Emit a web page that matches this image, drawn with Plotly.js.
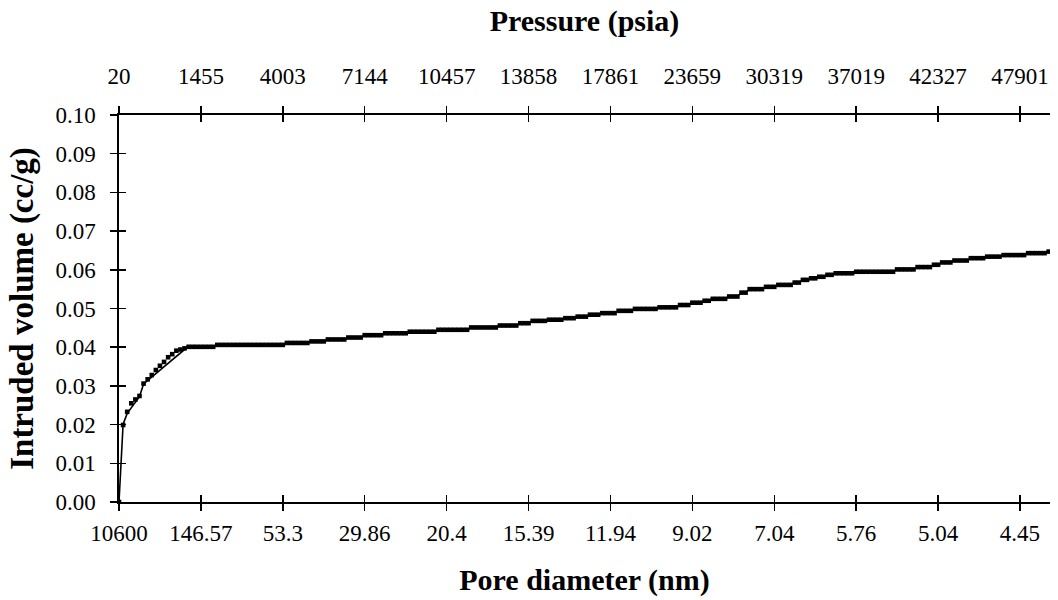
<!DOCTYPE html>
<html>
<head>
<meta charset="utf-8">
<script src="https://cdn.plot.ly/plotly-3.0.1.min.js"></script>
<style>
  html, body { margin: 0; padding: 0; background: #ffffff; }
  #chart { width: 1058px; height: 600px; }
</style>
</head>
<body>
<div id="chart"></div>
<script>
// Mercury intrusion: cumulative intruded volume (cc/g) per measurement step
const volume = [
  0, 0.0199, 0.0233, 0.0255, 0.0265, 0.0274, 0.0306, 0.0317, 0.0328, 0.0341,
  0.0352, 0.0362, 0.0374, 0.0382, 0.0391, 0.0394, 0.0397, 0.0401, 0.0401, 0.0401,
  0.0401, 0.0401, 0.0401, 0.0401, 0.0406, 0.0406, 0.0406, 0.0406, 0.0406, 0.0406,
  0.0406, 0.0406, 0.0406, 0.0406, 0.0406, 0.0406, 0.0406, 0.0406, 0.0406, 0.0406,
  0.0406, 0.0411, 0.0411, 0.0411, 0.0411, 0.0411, 0.0411, 0.0415, 0.0415, 0.0415,
  0.0415, 0.0420, 0.0420, 0.0420, 0.0420, 0.0420, 0.0425, 0.0425, 0.0425, 0.0425,
  0.0431, 0.0431, 0.0431, 0.0431, 0.0431, 0.0436, 0.0436, 0.0436, 0.0436, 0.0436,
  0.0436, 0.0440, 0.0440, 0.0440, 0.0440, 0.0440, 0.0440, 0.0440, 0.0445, 0.0445,
  0.0445, 0.0445, 0.0445, 0.0445, 0.0445, 0.0445, 0.0451, 0.0451, 0.0451, 0.0451,
  0.0451, 0.0451, 0.0451, 0.0456, 0.0456, 0.0456, 0.0456, 0.0456, 0.0462, 0.0462,
  0.0462, 0.0468, 0.0468, 0.0468, 0.0468, 0.0471, 0.0471, 0.0471, 0.0471, 0.0475,
  0.0475, 0.0475, 0.0479, 0.0479, 0.0479, 0.0484, 0.0484, 0.0484, 0.0488, 0.0488,
  0.0488, 0.0488, 0.0494, 0.0494, 0.0494, 0.0494, 0.0499, 0.0499, 0.0499, 0.0499,
  0.0499, 0.0499, 0.0503, 0.0503, 0.0503, 0.0503, 0.0503, 0.0509, 0.0509, 0.0509,
  0.0515, 0.0515, 0.0515, 0.0520, 0.0520, 0.0525, 0.0525, 0.0525, 0.0525, 0.0531,
  0.0531, 0.0531, 0.0541, 0.0541, 0.0550, 0.0550, 0.0550, 0.0550, 0.0556, 0.0556,
  0.0556, 0.0561, 0.0561, 0.0561, 0.0561, 0.0567, 0.0567, 0.0574, 0.0574, 0.0578,
  0.0578, 0.0582, 0.0582, 0.0587, 0.0587, 0.0591, 0.0591, 0.0591, 0.0591, 0.0591,
  0.0595, 0.0595, 0.0595, 0.0595, 0.0595, 0.0595, 0.0595, 0.0595, 0.0595, 0.0595,
  0.0601, 0.0601, 0.0601, 0.0601, 0.0601, 0.0607, 0.0607, 0.0607, 0.0607, 0.0613,
  0.0613, 0.0619, 0.0619, 0.0619, 0.0624, 0.0624, 0.0624, 0.0624, 0.0630, 0.0630,
  0.0630, 0.0630, 0.0634, 0.0634, 0.0634, 0.0634, 0.0638, 0.0638, 0.0638, 0.0638,
  0.0638, 0.0638, 0.0643, 0.0643, 0.0643, 0.0643, 0.0643, 0.0647
];

// Continuous curve over the first steps, where it runs just under the points
const curveStart = [
  0, 0.0201, 0.0229, 0.0243, 0.0256, 0.0272, 0.0305, 0.0314, 0.0323, 0.0332,
  0.0342, 0.0351, 0.0360, 0.0369, 0.0378, 0.0387, 0.0394, 0.0399
];

// Labelled steps: pore diameter (bottom) and pressure (top)
const diameterLabels = ['10600', '146.57', '53.3', '29.86', '20.4', '15.39',
                        '11.94', '9.02', '7.04', '5.76', '5.04', '4.45'];
const pressureLabels = ['20', '1455', '4003', '7144', '10457', '13858',
                        '17861', '23659', '30319', '37019', '42327', '47901'];
const labelEvery = 20;

const steps = volume.map((_, i) => i);
const curve = curveStart.concat(volume.slice(curveStart.length));
const tickPos = diameterLabels.map((_, k) => k * labelEvery);
const xRange = [0, volume.length - 1 + 0.33];

const serif = 'Liberation Serif';
function tickFont() { return { family: serif, size: 23, color: '#000000', weight: 'normal' }; }
function titleFont(size) { return { family: serif, size: size, color: '#000000', weight: 'bold' }; }

const traces = [
  { x: steps, y: curve, type: 'scatter', mode: 'lines',
    line: { color: '#000', width: 1.6 }, hoverinfo: 'skip', showlegend: false },
  { x: steps, y: volume, type: 'scatter', mode: 'markers',
    marker: { color: '#000', symbol: 'square', size: 4.6, line: { width: 0 } },
    showlegend: false },
  // empty traces so the extra tick axes get drawn
  { x: [], y: [], xaxis: 'x2', yaxis: 'y', showlegend: false, hoverinfo: 'skip' },
  { x: [], y: [], xaxis: 'x3', yaxis: 'y', showlegend: false, hoverinfo: 'skip' },
  { x: [], y: [], xaxis: 'x4', yaxis: 'y', showlegend: false, hoverinfo: 'skip' },
  { x: [], y: [], xaxis: 'x', yaxis: 'y2', showlegend: false, hoverinfo: 'skip' }
];

function xCommon() {
  return {
    range: xRange, tickmode: 'array', tickvals: tickPos,
    showgrid: false, zeroline: false, ticklen: 7, tickwidth: 1.5, tickcolor: '#000',
    fixedrange: true
  };
}

const layout = {
  width: 1058, height: 600,
  margin: { l: 119, r: 8, t: 115, b: 98 },
  paper_bgcolor: '#fff', plot_bgcolor: '#fff',
  font: { family: serif, color: '#000000', size: 23 },
  showlegend: false,
  xaxis: Object.assign(xCommon(), {
    side: 'bottom', anchor: 'y', ticks: 'outside',
    ticktext: diameterLabels, tickfont: tickFont(), ticklabelstandoff: 3,
    showline: true, linecolor: '#000', linewidth: 1.6,
    title: { text: 'Pore diameter (nm)', font: titleFont(30), standoff: 24 }
  }),
  xaxis3: Object.assign(xCommon(), {
    side: 'bottom', anchor: 'y', overlaying: 'x', ticks: 'inside',
    showticklabels: false, showline: false
  }),
  xaxis2: Object.assign(xCommon(), {
    side: 'top', anchor: 'y', overlaying: 'x', ticks: 'outside',
    ticktext: pressureLabels, tickfont: tickFont(), ticklabelstandoff: 13,
    showline: true, linecolor: '#000', linewidth: 1.6,
    title: { text: 'Pressure (psia)', font: titleFont(30), standoff: 24 }
  }),
  xaxis4: Object.assign(xCommon(), {
    side: 'top', anchor: 'y', overlaying: 'x', ticks: 'inside',
    showticklabels: false, showline: false
  }),
  yaxis: {
    range: [0, 0.1], tickmode: 'linear', tick0: 0, dtick: 0.01, tickformat: '.2f',
    side: 'left', anchor: 'x', ticks: 'outside', ticklen: 7, tickwidth: 1.5,
    tickcolor: '#000', tickfont: tickFont(), ticklabelstandoff: 10,
    showline: true, linecolor: '#000', linewidth: 1.6,
    showgrid: false, zeroline: false, fixedrange: true,
    title: { text: 'Intruded volume (cc/g)', font: titleFont(33), standoff: 12 }
  },
  yaxis2: {
    range: [0, 0.1], tickmode: 'linear', tick0: 0, dtick: 0.01,
    side: 'left', anchor: 'x', overlaying: 'y', ticks: 'inside', ticklen: 7,
    tickwidth: 1.5, tickcolor: '#000', showticklabels: false,
    showline: false, showgrid: false, zeroline: false, fixedrange: true
  }
};

Plotly.newPlot('chart', traces, layout, { staticPlot: true, displayModeBar: false });
</script>
</body>
</html>
